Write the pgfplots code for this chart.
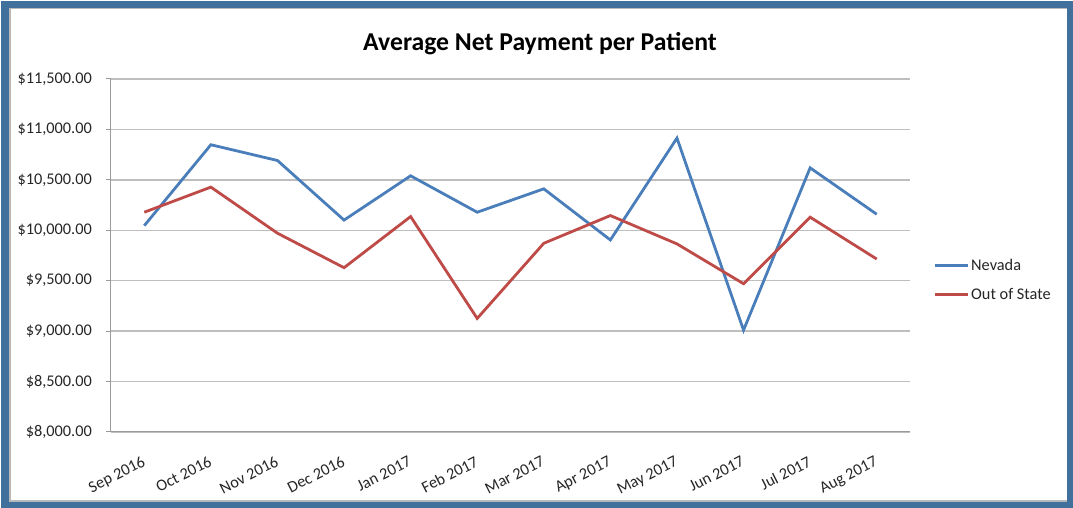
\documentclass[border=0pt]{standalone}
\usepackage{pgfplots}
\pgfplotsset{compat=1.18}
\usepackage{fontspec}
\setmainfont{Carlito}
\definecolor{frameblue}{HTML}{41709C}
\definecolor{nevada}{HTML}{4A7EBB}
\definecolor{oos}{HTML}{BE4B48}
\definecolor{gridgray}{HTML}{BEBEBE}
\definecolor{axgray}{HTML}{9A9A9A}
\begin{document}
\begin{tikzpicture}[x=1pt,y=1pt]
\useasboundingbox (0,0) rectangle (1073,508);
\fill[frameblue] (1,0) rectangle (1073,507);
\fill[gray!55] (9,6) rectangle (1067,500);
\fill[white] (10.5,7.5) rectangle (1067,498.5);
\node[font=\bfseries\fontsize{25.7}{30}\selectfont] at (540,464) {Average Net Payment per Patient};
\begin{axis}[
  at={(111pt,76pt)}, anchor=south west,
  scale only axis, width=799pt, height=353pt,
  xmin=-0.5, xmax=11.5, ymin=8000, ymax=11500,
  scaled y ticks=false,
  axis lines*=left,
  axis line style={axgray, line width=1pt},
  ytick={8000,8500,...,11500},
  yticklabels={{\$8,000.00},{\$8,500.00},{\$9,000.00},{\$9,500.00},{\$10,000.00},{\$10,500.00},{\$11,000.00},{\$11,500.00}},
  ymajorgrids, major grid style={gridgray, line width=1.3pt},
  xtick={0,...,11},
  xticklabels={Sep 2016,Oct 2016,Nov 2016,Dec 2016,Jan 2017,Feb 2017,Mar 2017,Apr 2017,May 2017,Jun 2017,Jul 2017,Aug 2017},
  minor xtick={-0.5,0.5,...,11.5},
  tick align=outside,
  xtick style={draw=none},
  minor x tick style={axgray, line width=1pt},
  minor tick length=5pt,
  ytick style={axgray, line width=1pt},
  major tick length=5pt,
  tick label style={font=\fontsize{16.3}{19}\selectfont, text=black!85},
  yticklabel style={inner sep=0pt, xshift=-14pt},
  xticklabel style={rotate=27, anchor=north east, inner sep=0pt, yshift=-15pt, xshift=-11pt},
  legend style={at={(1.029,0.43)}, anchor=west, draw=none, fill=none,
    font=\fontsize{16.3}{19}\selectfont, text=black!85, row sep=12pt, inner sep=0pt},
  legend cell align=left,
  legend image code/.code={\draw[#1] (0pt,0pt) -- (33pt,0pt);},
  clip=false,
]
\addplot[nevada, line width=2.8pt] coordinates {
(0,10046) (1,10848) (2,10692) (3,10101) (4,10540) (5,10179) (6,10411) (7,9904) (8,10914) (9,9010) (10,10619) (11,10159)};
\addlegendentry{Nevada}
\addplot[oos, line width=2.8pt] coordinates {
(0,10179) (1,10428) (2,9971) (3,9629) (4,10136) (5,9126) (6,9871) (7,10146) (8,9865) (9,9470) (10,10130) (11,9715)};
\addlegendentry{Out of State}
\end{axis}
\end{tikzpicture}
\end{document}
